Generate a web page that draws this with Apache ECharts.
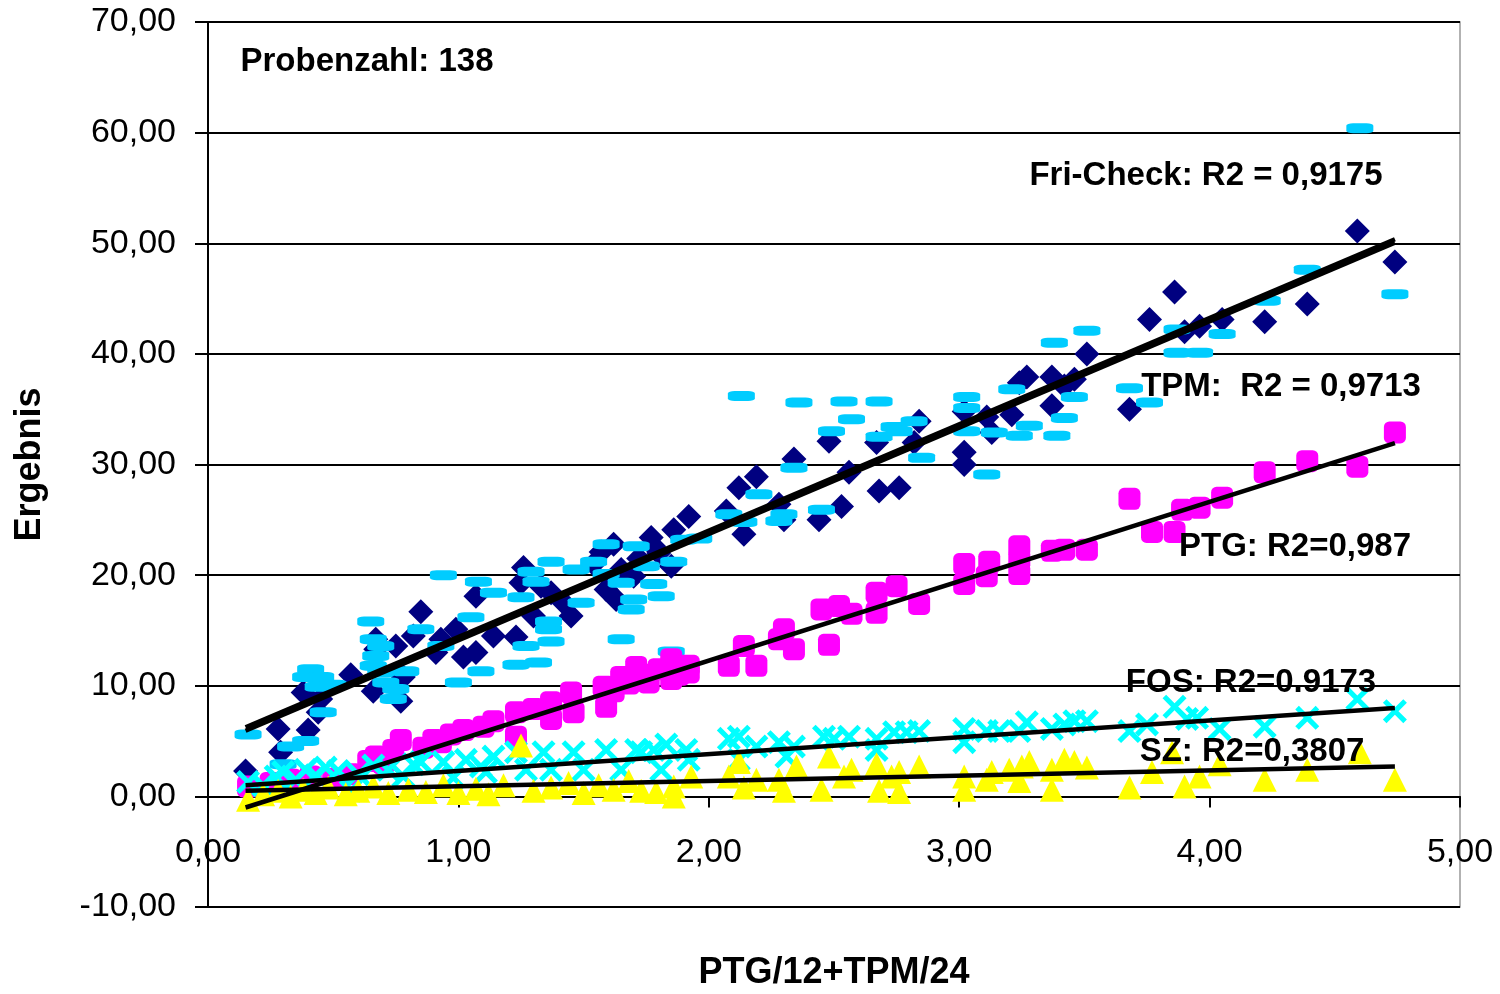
<!DOCTYPE html>
<html>
<head>
<meta charset="utf-8">
<script src="https://cdn.jsdelivr.net/npm/echarts@6/dist/echarts.min.js"></script>
<style>html,body{margin:0;padding:0;background:#fff}#c{width:1500px;height:994px}</style>
</head>
<body>
<div id="c"></div>
<script>
// ---- Data (x = PTG/12+TPM/24, y = Ergebnis) ----
var friCheck = [[0.15,2.3],[0.29,4.0],[0.28,6.1],[0.40,6.0],[0.38,9.4],[0.44,7.6],[0.45,8.8],[0.57,11.0],[0.66,9.5],[0.67,14.2],[0.67,13.3],[0.75,13.6],[0.77,8.6],[0.78,10.8],[0.82,14.5],[0.85,16.7],[0.91,13.0],[0.93,14.2],[0.99,15.1],[1.02,12.6],[1.07,13.0],[1.07,18.1],[1.14,14.5],[1.23,14.4],[1.25,19.3],[1.26,20.7],[1.30,16.3],[1.33,19.0],[1.37,18.4],[1.42,17.5],[1.45,16.3],[1.54,21.0],[1.57,22.1],[1.59,18.7],[1.62,22.8],[1.63,17.8],[1.65,20.5],[1.70,19.9],[1.72,21.5],[1.77,23.4],[1.78,22.6],[1.80,22.0],[1.85,20.8],[1.86,24.1],[1.92,25.3],[2.07,25.8],[2.12,27.9],[2.14,23.7],[2.19,28.9],[2.28,26.4],[2.30,25.0],[2.34,30.5],[2.44,25.0],[2.48,32.1],[2.53,26.2],[2.56,29.3],[2.67,32.0],[2.68,27.6],[2.76,27.9],[2.82,32.0],[2.84,33.9],[3.02,30.0],[3.02,31.1],[3.02,34.8],[3.11,34.3],[3.13,32.9],[3.21,34.5],[3.24,37.4],[3.27,37.9],[3.37,35.3],[3.37,37.9],[3.42,37.1],[3.46,37.7],[3.51,40.0],[3.68,35.0],[3.76,43.1],[3.86,45.6],[3.90,42.0],[3.96,42.5],[4.05,43.1],[4.22,42.9],[4.39,44.5],[4.59,51.1],[4.74,48.3]];
var tpm = [[0.16,5.6],[0.30,2.9],[0.33,4.5],[0.39,5.0],[0.41,11.5],[0.39,10.8],[0.45,10.8],[0.46,7.6],[0.44,9.9],[0.50,10.1],[0.65,15.8],[0.66,14.2],[0.69,13.6],[0.67,12.7],[0.66,11.8],[0.69,11.2],[0.71,10.3],[0.75,9.7],[0.74,8.8],[0.79,11.3],[0.85,15.1],[0.93,13.6],[0.94,20.0],[1.05,16.2],[1.08,19.4],[1.14,18.4],[1.09,11.3],[1.00,10.3],[1.23,11.9],[1.27,13.6],[1.32,12.1],[1.36,15.1],[1.36,15.8],[1.37,14.0],[1.37,21.2],[1.29,20.3],[1.31,19.4],[1.25,18.0],[1.47,20.5],[1.49,17.5],[1.54,21.2],[1.59,22.8],[1.59,20.1],[1.65,19.3],[1.65,14.2],[1.69,16.9],[1.70,17.8],[1.71,22.6],[1.75,20.8],[1.78,19.2],[1.81,18.1],[1.85,13.1],[1.86,21.2],[1.90,23.2],[1.96,23.3],[2.08,25.5],[2.13,36.2],[2.14,24.8],[2.20,27.3],[2.28,24.9],[2.30,25.5],[2.34,29.7],[2.36,35.6],[2.45,25.9],[2.49,33.0],[2.54,35.7],[2.57,34.1],[2.68,35.7],[2.68,32.5],[2.74,33.4],[2.76,33.0],[2.82,33.9],[2.85,30.6],[3.03,36.1],[3.03,35.1],[3.03,33.0],[3.11,29.1],[3.14,32.9],[3.21,36.8],[3.24,32.6],[3.28,33.5],[3.38,41.0],[3.39,32.6],[3.42,34.2],[3.46,36.1],[3.51,42.1],[3.68,36.9],[3.76,35.6],[3.87,42.2],[3.87,40.1],[3.96,40.1],[4.05,41.8],[4.23,44.8],[4.39,47.6],[4.60,60.4],[4.74,45.4]];
var ptg = [[0.16,0.9],[0.25,1.2],[0.33,1.5],[0.41,1.8],[0.50,1.6],[0.57,2.0],[0.64,3.2],[0.67,3.6],[0.70,3.0],[0.74,4.2],[0.77,5.1],[0.86,4.4],[0.90,5.1],[0.93,4.9],[0.97,5.6],[1.02,6.0],[1.10,6.3],[1.14,6.8],[1.23,7.6],[1.23,5.4],[1.30,7.9],[1.37,8.5],[1.37,7.0],[1.45,9.4],[1.46,7.6],[1.58,9.9],[1.59,8.1],[1.62,9.5],[1.65,10.8],[1.68,10.2],[1.71,11.7],[1.74,11.0],[1.76,10.3],[1.80,11.5],[1.85,12.4],[1.85,10.6],[1.88,11.0],[1.92,11.8],[1.92,11.2],[2.08,11.8],[2.14,13.6],[2.19,11.8],[2.28,14.2],[2.30,15.1],[2.34,13.3],[2.45,16.9],[2.48,13.7],[2.52,17.2],[2.57,16.5],[2.67,18.4],[2.67,16.6],[2.75,19.0],[2.84,17.4],[3.02,21.0],[3.02,19.2],[3.11,19.9],[3.12,21.2],[3.24,21.4],[3.24,20.1],[3.24,22.6],[3.37,22.2],[3.42,22.3],[3.51,22.3],[3.68,26.9],[3.77,23.9],[3.86,23.9],[3.89,25.9],[3.96,26.1],[4.05,27.0],[4.22,29.3],[4.39,30.3],[4.59,29.8],[4.74,32.9]];
var fos = [[0.16,1.3],[0.22,1.0],[0.27,1.8],[0.30,2.2],[0.35,1.5],[0.39,2.4],[0.43,1.9],[0.47,2.6],[0.52,2.3],[0.57,0.5],[0.60,2.0],[0.66,2.8],[0.72,2.4],[0.78,1.8],[0.82,2.9],[0.85,3.1],[0.94,3.1],[0.98,1.7],[1.03,3.3],[1.09,2.7],[1.11,2.2],[1.14,3.6],[1.23,4.0],[1.27,2.4],[1.34,4.0],[1.37,2.4],[1.46,4.0],[1.50,2.4],[1.59,4.2],[1.65,2.4],[1.71,4.2],[1.73,4.0],[1.78,4.2],[1.81,2.4],[1.83,4.7],[1.91,4.2],[1.92,3.3],[2.08,5.2],[2.12,5.4],[2.12,3.3],[2.19,4.5],[2.28,4.9],[2.31,3.6],[2.34,4.5],[2.46,5.4],[2.50,5.2],[2.56,5.4],[2.67,5.2],[2.67,4.2],[2.74,5.8],[2.79,5.8],[2.84,5.9],[3.02,6.1],[3.02,4.9],[3.11,5.9],[3.16,5.9],[3.24,5.9],[3.27,6.7],[3.37,6.1],[3.42,6.5],[3.46,6.8],[3.51,6.8],[3.68,5.9],[3.75,6.5],[3.86,8.1],[3.91,7.0],[3.95,7.1],[4.04,6.1],[4.22,6.3],[4.39,7.1],[4.59,8.8],[4.74,7.7]];
var sz = [[0.16,-0.3],[0.22,0.2],[0.28,0.5],[0.33,0.0],[0.38,0.6],[0.43,0.3],[0.48,0.8],[0.55,0.2],[0.60,0.5],[0.66,0.9],[0.72,0.3],[0.80,0.6],[0.87,0.4],[0.94,1.0],[1.00,0.3],[1.07,0.7],[1.12,0.2],[1.18,1.0],[1.25,4.6],[1.30,0.5],[1.37,0.8],[1.44,1.2],[1.50,0.3],[1.56,1.0],[1.62,0.6],[1.68,1.4],[1.73,0.5],[1.79,0.4],[1.86,0.9],[1.86,0.0],[1.93,1.8],[2.08,1.8],[2.12,3.1],[2.14,0.8],[2.19,1.5],[2.28,1.5],[2.30,0.5],[2.35,2.7],[2.45,0.6],[2.48,3.6],[2.54,1.8],[2.57,2.4],[2.67,2.9],[2.68,0.5],[2.73,1.8],[2.76,2.2],[2.76,0.4],[2.84,2.7],[3.02,1.8],[3.02,0.6],[3.11,1.5],[3.13,2.2],[3.20,2.4],[3.24,1.4],[3.25,2.7],[3.28,3.1],[3.37,0.6],[3.37,2.4],[3.42,3.3],[3.46,3.1],[3.51,2.6],[3.68,0.8],[3.77,2.2],[3.85,4.0],[3.90,0.9],[3.96,1.8],[4.04,2.9],[4.22,1.5],[4.39,2.4],[4.60,4.0],[4.74,1.5]];

// linear trend lines [slope, intercept], over x range
var trendRange = [0.15, 4.74];
var trendFri = [9.61, 4.81];
var trendTPM = [9.61, 4.49];
var trendPTG = [7.174, -2.08];
var trendFOS = [1.522, 0.77];
var trendSZ  = [0.478, 0.43];

var xTicks = {min: 0, max: 5, interval: 1};
var yTicks = {min: -10, max: 70, interval: 10};

var labels = [
  {text: 'Probenzahl: 138', x: 367, y: 62},
  {text: 'Fri-Check: R2 = 0,9175', x: 1206, y: 176},
  {text: 'TPM:  R2 = 0,9713', x: 1281, y: 387},
  {text: 'PTG: R2=0,987', x: 1295, y: 547},
  {text: 'FOS: R2=0.9173', x: 1251, y: 683},
  {text: 'SZ: R2=0,3807', x: 1252, y: 752}
];

function trend(c, w) {
  return {
    type: 'line', symbol: 'none', silent: true, z: 5,
    data: trendRange.map(function (x) { return [x, c[1] + c[0] * x]; }),
    lineStyle: {color: '#000', width: w}
  };
}
function fmt(v) { return v.toFixed(2).replace('.', ','); }

var crossPath = 'path://M0,3 L3,0 L10,7 L17,0 L20,3 L13,10 L20,17 L17,20 L10,13 L3,20 L0,17 L7,10 Z';
var FONT = '"Liberation Sans", Arial, sans-serif';

var chart = echarts.init(document.getElementById('c'), null, {renderer: 'canvas'});
chart.setOption({
  animation: false,
  backgroundColor: '#fff',
  grid: {left: 208, right: 40, top: 22, bottom: 87, show: true, borderColor: '#999', borderWidth: 1.5,
         containLabel: false, outerBoundsMode: 'none'},
  xAxis: {
    type: 'value', min: xTicks.min, max: xTicks.max, interval: xTicks.interval,
    axisLine: {onZero: true, lineStyle: {color: '#000', width: 2}},
    axisTick: {show: true, length: 11, lineStyle: {color: '#000', width: 2}},
    splitLine: {show: false},
    axisLabel: {formatter: fmt, color: '#000', fontSize: 34, fontFamily: FONT, margin: -71},
    name: 'PTG/12+TPM/24', nameLocation: 'middle', nameGap: 48,
    nameTextStyle: {color: '#000', fontSize: 36, fontWeight: 'bold', fontFamily: FONT}
  },
  yAxis: {
    type: 'value', min: yTicks.min, max: yTicks.max, interval: yTicks.interval,
    axisLine: {show: true, lineStyle: {color: '#000', width: 2}},
    axisTick: {show: true, length: 13, lineStyle: {color: '#000', width: 2}},
    splitLine: {show: true, lineStyle: {color: '#000', width: 2}},
    axisLabel: {formatter: fmt, color: '#000', fontSize: 34, fontFamily: FONT, margin: 32},
    name: 'Ergebnis', nameLocation: 'middle', nameGap: 160, nameRotate: 90,
    nameTextStyle: {color: '#000', fontSize: 36, fontWeight: 'bold', fontFamily: FONT}
  },
  graphic: labels.map(function (l) {
    return {type: 'text', x: l.x, y: l.y, z: 100,
      style: {text: l.text, fill: '#000', font: 'bold 33px ' + FONT, textAlign: 'center', textVerticalAlign: 'middle'}};
  }),
  series: [
    {name: 'Fri-Check', type: 'scatter', data: friCheck, symbol: 'diamond', symbolSize: 25, itemStyle: {color: '#000080', opacity: 1}, z: 2},
    {name: 'TPM', type: 'scatter', data: tpm, symbol: 'roundRect', symbolSize: [27, 10], itemStyle: {color: '#00CCFF', opacity: 1}, z: 2},
    {name: 'PTG', type: 'scatter', data: ptg, symbol: 'roundRect', symbolSize: 22, itemStyle: {color: '#FF00FF', opacity: 1}, z: 2},
    {name: 'FOS', type: 'scatter', data: fos, symbol: crossPath, symbolSize: 24, itemStyle: {color: '#00FFFF', opacity: 1}, z: 2},
    {name: 'SZ', type: 'scatter', data: sz, symbol: 'triangle', symbolSize: 24, itemStyle: {color: '#FFFF00', opacity: 1}, z: 2},
    trend(trendFri, 4.5),
    trend(trendTPM, 4.5),
    trend(trendPTG, 4.5),
    trend(trendFOS, 4.5),
    trend(trendSZ, 4.5)
  ]
});
</script>
</body>
</html>
